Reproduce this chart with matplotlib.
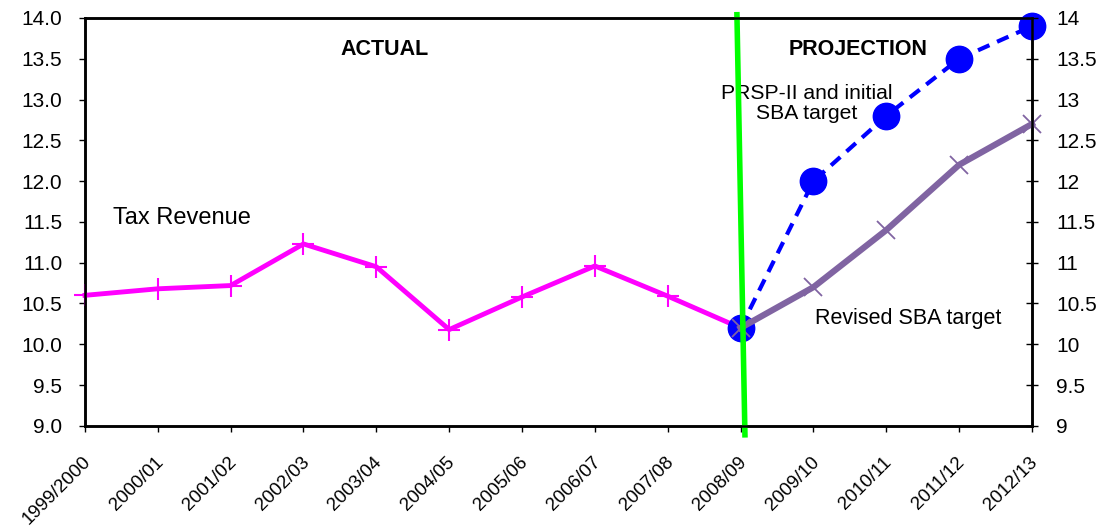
import numpy as np
import matplotlib.pyplot as plt
from matplotlib.ticker import FuncFormatter
from matplotlib.transforms import ScaledTranslation

plt.rcParams['font.family'] = ['Liberation Sans', 'DejaVu Sans']

years = ['1999/2000', '2000/01', '2001/02', '2002/03', '2003/04', '2004/05',
         '2005/06', '2006/07', '2007/08', '2008/09', '2009/10', '2010/11',
         '2011/12', '2012/13']
tax_revenue = [10.6, 10.68, 10.72, 11.23, 10.95, 10.18, 10.58, 10.96, 10.59, 10.2]
revised_sba = [10.2, 10.7, 11.4, 12.2, 12.7]
prsp_target = [10.2, 12.0, 12.8, 13.5, 13.9]

x = np.arange(len(years))
x_actual = x[:len(tax_revenue)]
x_proj = x[len(tax_revenue) - 1:]

fig = plt.figure(figsize=(10.99, 5.29), dpi=100)
ax = fig.add_axes([0.0773, 0.195, 0.8617, 0.771])

# Series
ax.plot(x_actual, tax_revenue, color='#FF00FF', linewidth=3.5, marker='+',
        markersize=16, markeredgewidth=1.5, zorder=3, clip_on=False)
ax.plot(x_proj, prsp_target, color='#0000FF', linewidth=3, linestyle=(0, (3, 2)),
        marker='o', markersize=19, zorder=4, clip_on=False)
ax.plot(x_proj, revised_sba, color='#8064A2', linewidth=4.5, marker='x',
        markersize=13, markeredgewidth=1.3, zorder=5, clip_on=False)

# Separator between actual and projection
ax.plot([8.95, 9.06], [14.04, 8.89], color='#00FF00', linewidth=4, clip_on=False, zorder=6)

# Annotations
ax.text(4.12, 13.61, 'ACTUAL', fontsize=15.5, fontweight='bold', ha='center', va='center')
ax.text(10.61, 13.61, 'PROJECTION', fontsize=15.5, fontweight='bold', ha='center', va='center')
ax.text(0.38, 11.55, 'Tax Revenue', fontsize=17, ha='left', va='center')
ax.text(9.91, 12.95, 'PRSP-II and initial\nSBA target', fontsize=15.2, ha='center',
        va='center', linespacing=1.1, zorder=5)
ax.text(10.02, 10.32, 'Revised SBA target', fontsize=15.5, ha='left', va='center')

# Axes
ax.set_xlim(0, 13)
ax.set_ylim(9, 14)
ax.set_yticks(np.arange(9, 14.01, 0.5))
ax.yaxis.set_major_formatter(FuncFormatter(lambda v, p: f'{v:.1f}'))
ax.set_xticks(x)
ax.set_xticklabels(years, rotation=45, ha='right', va='top', rotation_mode='anchor')
ax.tick_params(axis='y', labelsize=15, direction='out', length=4.3, width=1, pad=12)
ax.tick_params(axis='x', labelsize=13.5, direction='out', length=4.3, width=1, pad=15.5)
shift = ScaledTranslation(-0.03, 0, fig.dpi_scale_trans)
for lbl in ax.get_xticklabels():
    lbl.set_transform(lbl.get_transform() + shift)
for s in ax.spines.values():
    s.set_linewidth(1.8)

ax2 = ax.twinx()
ax2.set_ylim(9, 14)
ax2.set_yticks(np.arange(9, 14.01, 0.5))
ax2.yaxis.set_major_formatter(FuncFormatter(lambda v, p: f'{v:g}'))
ax2.tick_params(axis='y', labelsize=15, direction='inout', length=8.6, width=1, pad=13)
for s in ax2.spines.values():
    s.set_linewidth(1.8)

fig.savefig('out.png', dpi=100)
